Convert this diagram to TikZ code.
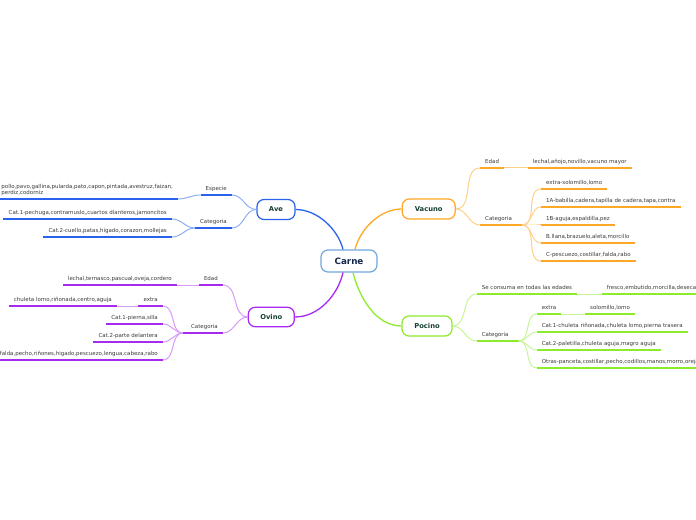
\documentclass[tikz,border=0pt]{standalone}
\usepackage{fontspec}
\setmainfont{DejaVu Sans}
\definecolor{txt}{HTML}{3A3A3A}
\definecolor{toptxt}{HTML}{173F35}
\definecolor{carnetxt}{HTML}{14264A}
\definecolor{carneb}{HTML}{6FA8DC}
\definecolor{bluem}{HTML}{2A62EE}
\definecolor{bluel}{HTML}{8FAEF7}
\definecolor{orgm}{HTML}{FFA726}
\definecolor{orgl}{HTML}{FFD08A}
\definecolor{grnm}{HTML}{8CEB2A}
\definecolor{grnl}{HTML}{C6F59A}
\definecolor{purm}{HTML}{A829F0}
\definecolor{purl}{HTML}{D79AF7}
\tikzset{
  leaf/.style={font=\fontsize{5.5}{6}\selectfont, text=txt, inner xsep=5bp, inner ysep=3bp, text height=4pt, text depth=1.5pt},
  multi/.style={font=\fontsize{5.5}{6}\selectfont, text=txt, inner xsep=5bp, inner ysep=3bp, align=left},
  topic/.style={draw, fill=white, line width=1.2bp, rounded corners=7bp, inner sep=0pt, minimum height=20bp, font=\bfseries\fontsize{6.8}{8}\selectfont, text=toptxt},
  uline/.style={line width=2bp},
  sub/.style={line width=1bp},
  mainc/.style={line width=1.3bp}
}
\begin{document}
\begin{tikzpicture}[x=1bp,y=-1bp]
\useasboundingbox (0,0) rectangle (696,520);
\clip (0,0) rectangle (696,520);

% central and topic nodes
\node[topic, draw=carneb, text=carnetxt, minimum width=56bp, minimum height=22bp, font=\bfseries\fontsize{8.8}{10}\selectfont] (carne) at (349,261) {Carne};
\node[topic, draw=bluem, minimum width=38bp] (ave) at (276,209.5) {Ave};
\node[topic, draw=orgm, minimum width=53bp] (vac) at (428.7,209) {Vacuno};
\node[topic, draw=purm, minimum width=46bp, minimum height=19.5bp] (ovi) at (271.3,317) {Ovino};
\node[topic, draw=grnm, minimum width=50bp] (poc) at (427,326) {Pocino};

% main connectors
\draw[mainc, bluem] ([xshift=-6bp]carne.north) .. controls +(-5,-20) and +(22,0) .. (ave.east);
\draw[mainc, orgm] ([xshift=6bp]carne.north) .. controls +(5,-20) and +(-22,0) .. (vac.west);
\draw[mainc, purm] ([xshift=-6bp]carne.south) .. controls +(-5,22) and +(24,0) .. (ovi.east);
\draw[mainc, grnm] ([xshift=4bp]carne.south) .. controls +(6,24) and +(-26,0) .. (poc.west);

% ===== Ave =====
\node[leaf, anchor=south east] (aesp) at (232,195) {Especie};
\node[multi, anchor=south east, text depth=1.5pt] (aspec) at (178,199) {pollo,pavo,gallina,pularda,pato,capon,pintada,avestruz,faizan,\\perdiz,codorniz};
\node[leaf, anchor=south east] (acat) at (232,228) {Categoria};
\node[leaf, anchor=south east] (ac1) at (172,219) {Cat.1-pechuga,contramuslo,,cuartos dlanteros,jamoncitos};
\node[leaf, anchor=south east] (ac2) at (172,237) {Cat.2-cuello,patas,higado,corazon,mollejas};
\foreach \n in {aesp,aspec,acat,ac1,ac2} \draw[uline, bluem] (\n.south west) -- (\n.south east);
\draw[sub, bluel] (ave.west) to[out=180,in=0] (aesp.south east);
\draw[sub, bluel] (ave.west) to[out=180,in=0] (acat.south east);
\draw[sub, bluel] (aesp.south west) to[out=180,in=0] (aspec.south east);
\draw[sub, bluel] (acat.south west) to[out=180,in=0] (ac1.south east);
\draw[sub, bluel] (acat.south west) to[out=180,in=0] (ac2.south east);

% ===== Ovino =====
\node[leaf, anchor=south east] (oed) at (223,285) {Edad};
\node[leaf, anchor=south east] (olec) at (177,285) {lechal,ternasco,pascual,oveja,cordero};
\node[leaf, anchor=south east] (ocat) at (223,333) {Categoria};
\coordinate (ocatw) at ([xshift=-3bp]ocat.south west);
\node[leaf, anchor=south east] (oext) at (163,306) {extra};
\node[leaf, anchor=south east] (ochu) at (117,306) {chuleta lomo,riñonada,centro,aguja};
\node[leaf, anchor=south east] (oc1) at (163,324) {Cat.1-pierna,silla};
\node[leaf, anchor=south east] (oc2) at (163,342) {Cat.2-parte delantera};
\node[leaf, anchor=south east] (oc3) at (163,360) {Cat.3-falda,pecho,riñones,higado,pescuezo,lengua,cabeza,rabo};
\foreach \n in {oed,olec,oext,ochu,oc1,oc2,oc3} \draw[uline, purm] (\n.south west) -- (\n.south east);
\draw[uline, purm] (ocatw) -- (ocat.south east);
\draw[sub, purl] (ovi.west) to[out=180,in=0] (oed.south east);
\draw[sub, purl] (ovi.west) to[out=180,in=0] (ocat.south east);
\draw[sub, purl] (oed.south west) -- (olec.south east);
\draw[sub, purl] (oext.south west) -- (ochu.south east);
\foreach \n in {oext,oc1,oc2,oc3} \draw[sub, purl] (ocatw) to[out=180,in=0] (\n.south east);

% ===== Vacuno =====
\node[leaf, anchor=south west] (ved) at (480,168) {Edad};
\node[leaf, anchor=south west] (vlec) at (527.7,168) {lechal,añojo,novillo,vacuno mayor};
\node[leaf, anchor=south west] (vcat) at (480,225) {Categoria};
\coordinate (vcate) at ([xshift=5bp]vcat.south east);
\node[leaf, anchor=south west] (v1) at (541,189) {extra-solomillo,lomo};
\node[leaf, anchor=south west] (v2) at (541,207) {1A-babilla,cadera,tapilla de cadera,tapa,contra};
\node[leaf, anchor=south west] (v3) at (541,225) {1B-aguja,espaldilla,pez};
\node[leaf, anchor=south west] (v4) at (541,243) {B.llana,brazuelo,aleta,morcillo};
\node[leaf, anchor=south west] (v5) at (541,261) {C-pescuezo,costillar,falda,rabo};
\foreach \n in {ved,vlec,v1,v2,v3,v4,v5} \draw[uline, orgm] (\n.south west) -- (\n.south east);
\draw[uline, orgm] (vcat.south west) -- (vcate);
\draw[sub, orgl] (vac.east) to[out=0,in=180] (ved.south west);
\draw[sub, orgl] (vac.east) to[out=0,in=180] (vcat.south west);
\draw[sub, orgl] (ved.south east) -- (vlec.south west);
\foreach \n in {v1,v2,v3,v4,v5} \draw[sub, orgl] (vcate) to[out=0,in=180] (\n.south west);

% ===== Pocino =====
\node[leaf, anchor=south west] (pse) at (476.7,294) {Se consuma en todas las edades};
\node[leaf, anchor=south west] (pfre) at (601.7,294) {fresco,embutido,morcilla,desecacion};
\node[leaf, anchor=south west] (pcat) at (476.7,341) {Categoria};
\coordinate (pcate) at ([xshift=5bp]pcat.south east);
\node[leaf, anchor=south west] (pext) at (536.7,314) {extra};
\node[leaf, anchor=south west] (psol) at (585,314) {solomillo,lomo};
\node[leaf, anchor=south west] (p1) at (536.7,332) {Cat.1-chuleta riñonada,chuleta lomo,pierna trasera};
\node[leaf, anchor=south west] (p2) at (536.7,350) {Cat.2-paletilla,chuleta aguja,magro aguja};
\node[leaf, anchor=south west] (p3) at (536.7,368) {Otras-panceta,costillar,pecho,codillos,manos,morro,orejas};
\foreach \n in {pse,pfre,pext,psol,p1,p2,p3} \draw[uline, grnm] (\n.south west) -- (\n.south east);
\draw[uline, grnm] (pcat.south west) -- (pcate);
\draw[sub, grnl] (poc.east) to[out=0,in=180] (pse.south west);
\draw[sub, grnl] (poc.east) to[out=0,in=180] (pcat.south west);
\draw[sub, grnl] (pse.south east) -- (pfre.south west);
\draw[sub, grnl] (pext.south east) -- (psol.south west);
\foreach \n in {pext,p1,p2,p3} \draw[sub, grnl] (pcate) to[out=0,in=180] (\n.south west);
\end{tikzpicture}
\end{document}
